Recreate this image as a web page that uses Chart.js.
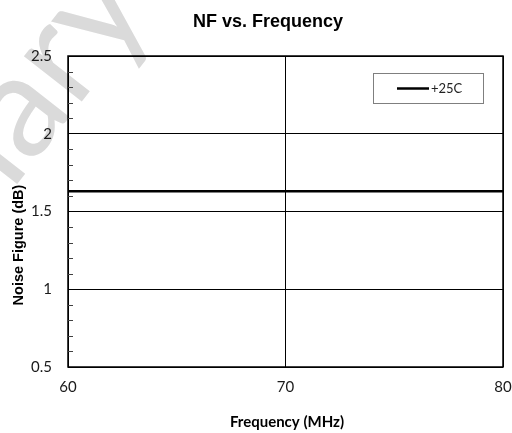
<!DOCTYPE html>
<html>
<head>
<meta charset="utf-8">
<script src="https://cdn.jsdelivr.net/npm/chart.js@4/dist/chart.umd.min.js"></script>
<style>
  html, body { margin: 0; padding: 0; background: #ffffff; }
  #wrap { width: 512px; height: 433px; }
</style>
</head>
<body>
<div id="wrap"><canvas id="c" width="512" height="433"></canvas></div>
<script>
// Measured noise figure across the band
const frequencies = [60, 65, 70, 75, 80];
const nf25C = [1.63, 1.63, 1.63, 1.63, 1.63];
const seriesLabel = '+25C';

// Axis tick values
const xTickValues = [60, 70, 80];
const yTickValues = [0.5, 1, 1.5, 2, 2.5];
const yMinorStep = 0.1;

const chartTitle = 'NF vs. Frequency';
const xAxisTitle = 'Frequency (MHz)';
const yAxisTitle = 'Noise Figure (dB)';
const stampText = 'Preliminary';

const tickFont = { family: 'Lato', size: 15 };

// Title, axis titles, watermark, frame, minor ticks and boxed legend
const decorations = {
  id: 'decorations',
  beforeDraw(chart) {
    const ctx = chart.ctx;
    ctx.save();
    ctx.fillStyle = '#ffffff';
    ctx.fillRect(0, 0, chart.width, chart.height);
    // faint diagonal stamp
    ctx.translate(154, 9);
    ctx.rotate(-52 * Math.PI / 180);
    ctx.font = '145px Lato';
    ctx.fillStyle = '#dadada';
    ctx.textAlign = 'right';
    ctx.textBaseline = 'alphabetic';
    ctx.fillText(stampText, 0, 0);
    ctx.restore();
  },
  afterDraw(chart) {
    const ctx = chart.ctx;
    const a = chart.chartArea;
    const y = chart.scales.y;
    ctx.save();
    // frame
    ctx.strokeStyle = '#000000';
    ctx.lineWidth = 1.5;
    ctx.strokeRect(a.left, a.top, a.right - a.left, a.bottom - a.top);
    // inward minor ticks on the value axis
    ctx.lineWidth = 1;
    ctx.strokeStyle = '#404040';
    for (let i = 1; i < Math.round((y.max - y.min) / yMinorStep); i++) {
      const v = y.min + i * yMinorStep;
      if (Math.abs(v * 2 - Math.round(v * 2)) < 1e-6) continue;
      const py = Math.round(y.getPixelForValue(v)) + 0.5;
      ctx.beginPath();
      ctx.moveTo(a.left, py);
      ctx.lineTo(a.left + 5, py);
      ctx.stroke();
    }
    // chart title
    ctx.fillStyle = '#000000';
    ctx.font = 'bold 18px "Liberation Sans"';
    ctx.textAlign = 'center';
    ctx.textBaseline = 'alphabetic';
    ctx.fillText(chartTitle, 268, 27);
    // x axis title
    ctx.font = 'bold 15px Lato';
    ctx.fillText(xAxisTitle, 287, 427);
    // y axis title
    ctx.save();
    ctx.translate(23, 245);
    ctx.rotate(-Math.PI / 2);
    ctx.font = 'bold 14.5px "Liberation Sans"';
    ctx.fillText(yAxisTitle, 0, 0);
    ctx.restore();
    // legend box
    const ds = chart.data.datasets[0];
    ctx.fillStyle = '#ffffff';
    ctx.fillRect(373.5, 73.5, 110, 30);
    ctx.strokeStyle = '#7f7f7f';
    ctx.lineWidth = 1;
    ctx.strokeRect(373.5, 73.5, 110, 30);
    ctx.strokeStyle = ds.borderColor;
    ctx.lineWidth = ds.borderWidth;
    ctx.beginPath();
    ctx.moveTo(397, 88.5);
    ctx.lineTo(429, 88.5);
    ctx.stroke();
    ctx.fillStyle = '#222222';
    ctx.font = '13px Lato';
    ctx.textAlign = 'left';
    ctx.textBaseline = 'middle';
    ctx.fillText(ds.label, 431, 89);
    ctx.restore();
  }
};

new Chart(document.getElementById('c'), {
  type: 'line',
  data: {
    datasets: [{
      label: seriesLabel,
      data: frequencies.map((f, i) => ({ x: f, y: nf25C[i] })),
      borderColor: '#000000',
      borderWidth: 2.5,
      pointRadius: 0,
      tension: 0,
      fill: false
    }]
  },
  options: {
    responsive: false,
    animation: false,
    devicePixelRatio: 1,
    layout: { padding: { top: 56, right: 9, left: 0, bottom: 0 } },
    plugins: { legend: { display: false }, title: { display: false }, tooltip: { enabled: false } },
    scales: {
      x: {
        type: 'linear',
        min: 60, max: 80,
        afterBuildTicks: s => { s.ticks = xTickValues.map(v => ({ value: v })); },
        afterFit: s => { s.height = 66; s.paddingLeft = 0; s.paddingRight = 0; },
        grid: { color: '#000000', lineWidth: 1, drawTicks: false },
        border: { display: false },
        ticks: { font: tickFont, color: '#1a1a1a', padding: 11, maxRotation: 0,
                 callback: v => String(v) }
      },
      y: {
        min: 0.5, max: 2.5,
        afterBuildTicks: s => { s.ticks = yTickValues.map(v => ({ value: v })); },
        afterFit: s => { s.width = 68; s.paddingTop = 0; s.paddingBottom = 0; },
        grid: { color: '#000000', lineWidth: 1, drawTicks: false },
        border: { display: false },
        ticks: { font: tickFont, color: '#1a1a1a', padding: 16,
                 callback: v => String(v) }
      }
    }
  },
  plugins: [decorations]
});
</script>
</body>
</html>
